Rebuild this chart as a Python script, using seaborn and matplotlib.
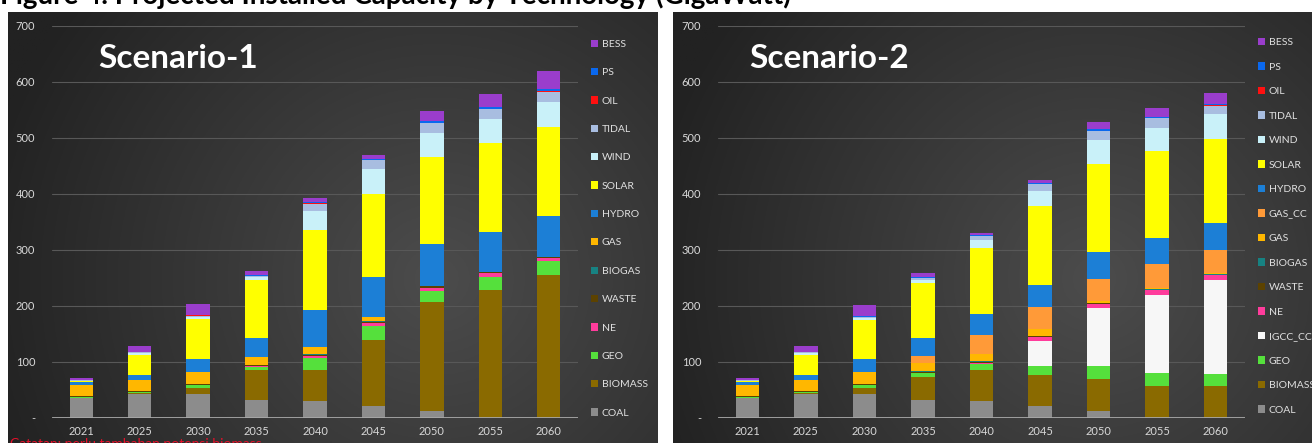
import numpy as np
import pandas as pd
import matplotlib
matplotlib.use("Agg")
import matplotlib.pyplot as plt
import seaborn as sns
from matplotlib.patches import Patch

sns.set_style("dark")
plt.rcParams['font.family'] = ['Lato', 'DejaVu Sans']

years = ["2021", "2025", "2030", "2035", "2040", "2045", "2050", "2055", "2060"]

# ---------------- Scenario-1 (GW) ----------------
s1_coal    = [35, 42, 43, 32, 30, 21, 12, 0, 0]
s1_biomass = [1, 2, 10, 54, 55, 119, 195, 229, 256]
s1_geo     = [2, 3, 6, 5, 22, 25, 20, 23, 24]
s1_ne      = [0, 0, 0, 1, 3, 4, 6, 7, 5]
s1_waste   = [0.5, 0.5, 1, 2, 2, 2, 2, 1, 2]
s1_biogas  = [1, 1, 1, 1, 2, 2, 1, 1, 1]
s1_gas     = [20, 20, 22, 14, 12, 8, 0, 0, 0]
s1_hydro   = [5, 8, 22, 34, 66, 71, 74, 72, 72]
s1_solar   = [1, 36, 72, 103, 144, 148, 156, 158, 159]
s1_wind    = [1, 3, 4, 5, 33, 45, 43, 43, 46]
s1_tidal   = [0.5, 2, 2, 3, 14, 15, 18, 18, 18]
s1_oil     = [0.2, 0.2, 0.2, 0.2, 0.2, 0.2, 0.2, 0.2, 0.2]
s1_ps      = [0, 1, 1, 1, 3, 3, 4, 4, 5]
s1_bess    = [5, 10, 19, 7, 7, 6, 17, 22, 32]

# ---------------- Scenario-2 (GW) ----------------
s2_coal    = [35, 42, 43, 32, 30, 21, 12, 0, 0]
s2_biomass = [1, 2, 10, 42, 56, 56, 58, 57, 57]
s2_geo     = [2, 3, 6, 6, 10, 16, 23, 24, 22]
s2_igcc    = [0, 0, 0, 0, 0, 45, 103, 138, 168]
s2_ne      = [0, 0, 0, 1, 2, 6, 7, 9, 8]
s2_waste   = [0.5, 0.5, 1, 2, 2, 2, 2, 1, 1]
s2_biogas  = [1, 1, 1, 1, 1, 1, 1, 1, 1]
s2_gas     = [20, 20, 22, 15, 14, 12, 3, 2, 2]
s2_gascc   = [0, 0, 0, 12, 33, 40, 40, 43, 41]
s2_hydro   = [5, 8, 22, 32, 37, 39, 47, 46, 48]
s2_solar   = [1, 36, 70, 98, 118, 141, 157, 155, 151]
s2_wind    = [1, 3, 4, 6, 14, 26, 44, 41, 44]
s2_tidal   = [0.5, 2, 2, 3, 8, 12, 16, 18, 15]
s2_oil     = [0.2, 0.2, 0.2, 0.2, 0.2, 0.2, 0.2, 0.2, 0.2]
s2_ps      = [0, 1, 1, 1, 2, 2, 2, 2, 2]
s2_bess    = [5, 10, 19, 7, 4, 6, 14, 17, 20]

colors = {
    "COAL": "#8c8c8c", "BIOMASS": "#8a6a00", "GEO": "#55e03c", "IGCC_CC": "#f7f7f7",
    "NE": "#ff3c9c", "WASTE": "#5c4200", "BIOGAS": "#178282", "GAS": "#ffb700",
    "GAS_CC": "#ff9a38", "HYDRO": "#1c7fd6", "SOLAR": "#ffff00", "WIND": "#c9f1f9",
    "TIDAL": "#a8bde0", "OIL": "#ff1010", "PS": "#0a68ee", "BESS": "#9a3dcc",
}

s1_layers = [("COAL", s1_coal), ("BIOMASS", s1_biomass), ("GEO", s1_geo), ("NE", s1_ne),
             ("WASTE", s1_waste), ("BIOGAS", s1_biogas), ("GAS", s1_gas), ("HYDRO", s1_hydro),
             ("SOLAR", s1_solar), ("WIND", s1_wind), ("TIDAL", s1_tidal), ("OIL", s1_oil),
             ("PS", s1_ps), ("BESS", s1_bess)]
s2_layers = [("COAL", s2_coal), ("BIOMASS", s2_biomass), ("GEO", s2_geo), ("IGCC_CC", s2_igcc),
             ("NE", s2_ne), ("WASTE", s2_waste), ("BIOGAS", s2_biogas), ("GAS", s2_gas),
             ("GAS_CC", s2_gascc), ("HYDRO", s2_hydro), ("SOLAR", s2_solar), ("WIND", s2_wind),
             ("TIDAL", s2_tidal), ("OIL", s2_oil), ("PS", s2_ps), ("BESS", s2_bess)]

W, H = 1312, 443
fig = plt.figure(figsize=(W / 100, H / 100), dpi=100)
fig.patch.set_facecolor("white")


def background(rect):
    bg = fig.add_axes(rect, zorder=-5)
    ny, nx = 200, 400
    u = np.linspace(0, 1, nx)[None, :]
    v = np.linspace(0, 1, ny)[:, None]
    d = np.sqrt(((u - 0.66) / 0.75) ** 2 + ((v - 0.62) / 1.1) ** 2)
    d = np.clip(d / 0.95, 0, 1)
    inner = np.array([0x4c, 0x4c, 0x4c]) / 255
    outer = np.array([0x22, 0x22, 0x22]) / 255
    img = inner[None, None, :] * (1 - d[..., None]) + outer[None, None, :] * d[..., None]
    bg.imshow(img, aspect="auto", extent=[0, 1, 0, 1], origin="upper")
    bg.set_axis_off()


background([8 / W, 0, 650 / W, 431 / H])
background([673 / W, 0, 639 / W, 431 / H])


def panel(rect, layers, title, title_x, leg_top, leg_ls):
    ax = fig.add_axes(rect)
    ax.set_facecolor("none")
    bottom = np.zeros(len(years))
    for name, vals in layers:
        vals = np.asarray(vals, dtype=float)
        sns.barplot(x=years, y=vals, bottom=bottom, color=colors[name], width=0.4,
                    errorbar=None, saturation=1, linewidth=0, ax=ax, zorder=3)
        bottom = bottom + vals
    ax.set_xlim(-0.5, 8.5)
    ax.set_ylim(0, 700)
    ax.set_yticks(range(0, 701, 100))
    ax.set_yticklabels(["-"] + [str(t) for t in range(100, 701, 100)])
    ax.set_xlabel("")
    ax.set_ylabel("")
    ax.grid(axis="y", color="#585858", linewidth=0.8, zorder=0)
    ax.grid(axis="x", visible=False)
    ax.axhline(0, color="#a8a8a8", linewidth=2, zorder=4)
    for s in ax.spines.values():
        s.set_visible(False)
    ax.tick_params(axis="both", length=0, colors="#d8d8d8", labelsize=8)
    ax.tick_params(axis="y", pad=12)
    ax.tick_params(axis="x", pad=6)
    ax.text(title_x, 0.918, title, transform=ax.transAxes, ha="center", va="center",
            color="white", fontsize=24, fontweight="bold")
    handles = [Patch(facecolor=colors[n], edgecolor="none", label=n) for n, _ in layers[::-1]]
    ax.legend(handles=handles, loc="upper left", bbox_to_anchor=(1.025, leg_top),
              frameon=False, fontsize=7.5, labelcolor="#e0e0e0", handlelength=0.7,
              handleheight=0.7, handletextpad=0.3, labelspacing=leg_ls,
              borderpad=0, borderaxespad=0)
    return ax


panel([52 / W, 25 / H, 526 / W, 392 / H], s1_layers, "Scenario-1", 0.24, 0.965, 1.83)
panel([718 / W, 25 / H, 527 / W, 392 / H], s2_layers, "Scenario-2", 0.21, 0.97, 1.46)

fig.text(0.0, 1.0 + 5 / H, "Figure 4. Projected Installed Capacity by Technology (GigaWatt)",
         ha="left", va="center", fontsize=20, fontweight="bold", color="black")
fig.text(10 / W, 5 / H, "Catatan: perlu tambahan potensi biomass", ha="left",
         va="top", fontsize=10, color="#e8102a")

fig.savefig("out.png", dpi=100)
